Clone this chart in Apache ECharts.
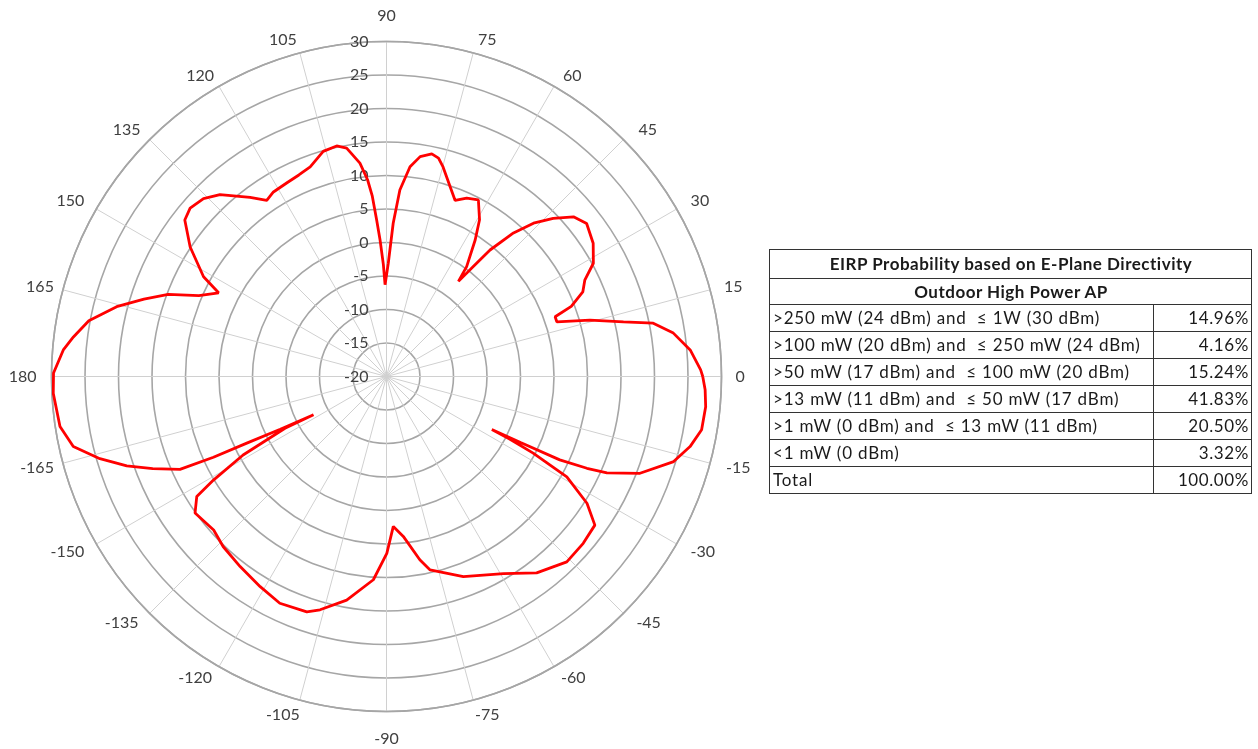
<!DOCTYPE html>
<html>
<head>
<meta charset="utf-8">
<script src="https://cdn.jsdelivr.net/npm/echarts@6.0.0/dist/echarts.min.js"></script>
<style>
html,body{margin:0;padding:0;background:#fff;}
#chart{position:absolute;left:0;top:0;width:1258px;height:749px;}
#tbl{position:absolute;left:769px;top:249px;width:482px;border-collapse:collapse;table-layout:fixed;font-family:Lato,"Open Sans",sans-serif;font-size:17px;letter-spacing:0.8px;color:#1a1a1a;}
#tbl td{border:1px solid #333;padding:0 2px 0 3px;line-height:20px;white-space:pre;overflow:visible;}
#tbl td.h{font-weight:bold;text-align:center;letter-spacing:0.5px;}
#tbl td.n{text-align:right;letter-spacing:0.6px;}
</style>
</head>
<body>
<div id="chart"></div>
<table id="tbl"></table>
<script>
// Angle (degrees, as labelled on the chart) and gain (dB) along the traced pattern
const angles = [
  0, 1.2, 5.0, 8.6, 11.3, 13.0, 15.5, 17.8, 19.5, 20.8, 23.3, 25.9, 28.7, 32.8, 37.4, 40.5, 43.5, 46.2, 48.5, 50.7, 51.7,
  52.9, 53.9, 57.0, 59.3, 62.5, 65.8, 68.7, 71.5, 74.9, 76.6, 78.5, 81.3, 83.6, 85.9, 87.5, 89.1,
  90.9, 91.6, 92.7, 93.6, 94.5, 95.5, 97.1, 99.9, 102.2, 105.7, 110.0, 113.5, 117.3, 121.5, 124.2, 127.3,
  132.5, 135.8, 139.4, 142.2, 146.6, 151.4, 153.5, 156.7, 159.4, 162.3, 165.5, 169.4, 172.8, 175.3, 179.4,
  -177.1, -171.3, -167.4, -164.0, -161.0, -158.5, -155.8, -155.0, -154.5, -153.6, -152.3, -153.0, -151.3,
  -149.1, -147.7, -144.5, -138.4, -133.8, -127.6, -121.0, -115.2, -108.7, -105.9, -100.1, -93.7, -89.9,
  -87.4, -84.0, -79.7, -77.3, -69.0, -59.3, -52.6, -45.8, -40.3, -35.5, -32.3, -29.1, -27.6, -26.9, -26.7,
  -26.2, -25.7, -24.6, -23.6, -20.9, -16.5, -13.0, -9.6, -5.4, -2.4, 0
];
const gains = [
  27.2, 26.9, 25.5, 23.3, 20.6, 16.3, 11.5, 6.7, 6.7, 9.5, 11.9, 12.9, 15.2, 16.7, 17.6, 16.7, 14.3, 11.7, 8.6, 4.4, 0.9,
  -2.2, 0.3, 4.3, 7.2, 9.7, 9.2, 8.2, 9.9, 12.4, 13.5, 13.9, 13.2, 11.5, 7.9, 2.9, -3.1,
  -6.3, -3.3, 0.4, 3.4, 7.0, 9.5, 12.1, 14.6, 15.2, 14.9, 13.3, 12.8, 12.5, 12.3, 11.8, 13.6,
  16.8, 18.1, 18.6, 18.1, 15.1, 11.1, 8.0, 10.5, 14.8, 18.0, 21.6, 25.2, 27.1, 28.4, 29.7,
  29.8, 29.3, 27.9, 24.5, 21.0, 17.5, 13.8, 8.5, 3.1, -2.3, -7.7, -3.0, 4.4,
  10.1, 13.5, 15.1, 14.5, 15.2, 15.8, 16.6, 17.4, 17.1, 16.2, 13.9, 10.4, 6.4,
  2.4, 4.0, 7.8, 9.6, 12.0, 14.2, 16.9, 18.6, 18.5, 18.2, 15.4, 10.8, 4.7, 0.6, -2.4,
  2.3, 8.7, 12.9, 15.9, 20.5, 24.7, 26.5, 27.7, 27.85, 27.6, 27.2
];
const angleTickLabels = ['0','15','30','45','60','75','90','105','120','135','150','165','180',
  '-165','-150','-135','-120','-105','-90','-75','-60','-45','-30','-15'];
const radiusTicks = [-20, -15, -10, -5, 0, 5, 10, 15, 20, 25, 30];

const tableTitle = 'EIRP Probability based on E-Plane Directivity';
const tableSubtitle = 'Outdoor High Power AP';
const rangeLabels = [
  '>250 mW (24 dBm) and  \u2264 1W (30 dBm)',
  '>100 mW (20 dBm) and  \u2264 250 mW (24 dBm)',
  '>50 mW (17 dBm) and  \u2264 100 mW (20 dBm)',
  '>13 mW (11 dBm) and  \u2264 50 mW (17 dBm)',
  '>1 mW (0 dBm) and  \u2264 13 mW (11 dBm)',
  '<1 mW (0 dBm)',
  'Total'
];
const rangePercents = ['14.96%', '4.16%', '15.24%', '41.83%', '20.50%', '3.32%', '100.00%'];

// ---- table ----
const esc = s => s.replace(/&/g,'&amp;').replace(/</g,'&lt;').replace(/>/g,'&gt;');
let html = '<colgroup><col style="width:384px"><col style="width:98px"></colgroup>';
html += '<tr style="height:29px"><td class="h" colspan="2">' + esc(tableTitle) + '</td></tr>';
html += '<tr style="height:26px"><td class="h" colspan="2">' + esc(tableSubtitle) + '</td></tr>';
for (let i = 0; i < rangeLabels.length; i++) {
  html += '<tr style="height:27px"><td>' + esc(rangeLabels[i]) + '</td><td class="n">' + esc(rangePercents[i]) + '</td></tr>';
}
document.getElementById('tbl').innerHTML = html;

// ---- chart ----
// angle axis runs 90..450 so that the radius labels sit on the vertical spoke
const toAxis = a => ((((a - 90) % 360) + 360) % 360) + 90;
const data = angles.map((a, i) => [gains[i], toAxis(a)]);

// per-label padding [top, right, bottom, left] to mimic the reference label placement
const labelPad = {
  '0': [0,0,0,14], '15': [0,0,6,14], '30': [0,0,0,14], '45': [0,0,2,15], '60': [0,0,3,9],
  '75': [0,0,5,28], '90': [0,0,18,0], '105': [0,34,5,0], '120': [0,5,3,0], '135': [0,9,2,0],
  '150': [0,12,0,0], '165': [0,9,6,0], '180': [0,15,0,0], '-165': [10,9,0,0], '-150': [0,12,0,0],
  '-135': [1,11,0,0], '-120': [3,7,0,0], '-105': [7,34,0,0], '-90': [19,0,0,0], '-75': [7,0,0,28],
  '-60': [3,0,0,7], '-45': [1,0,0,13], '-30': [0,0,0,14], '-15': [10,0,0,16]
};
const font = 'Lato';
const rich = {};
angleTickLabels.forEach((t, i) => {
  rich['a' + i] = {padding: labelPad[t], fontSize: 16, fontFamily: font, color: '#404040'};
});

const chart = echarts.init(document.getElementById('chart'), null, {renderer: 'canvas'});
chart.setOption({
  animation: false,
  polar: {center: [386.5, 376.5], radius: [0, 335]},
  angleAxis: {
    type: 'value', min: 90, max: 450, interval: 15, startAngle: 90, clockwise: false,
    axisLine: {show: true, lineStyle: {color: '#a6a6a6', width: 1.6}},
    axisTick: {show: false},
    axisLabel: {
      margin: 0, color: '#404040', fontSize: 16, fontFamily: font, rich: rich,
      formatter: v => {
        const i = Math.round((((v % 360) + 360) % 360) / 15) % 24;
        return '{a' + i + '|' + angleTickLabels[i] + '}';
      }
    },
    splitLine: {show: true, lineStyle: {color: '#d0d0d0', width: 1}}
  },
  radiusAxis: {
    type: 'value', min: radiusTicks[0], max: radiusTicks[radiusTicks.length - 1], interval: 5,
    axisLine: {show: false}, axisTick: {show: false},
    axisLabel: {margin: 18, color: '#404040', fontSize: 16, fontFamily: font},
    splitLine: {show: true, lineStyle: {color: '#a6a6a6', width: 1.6}}
  },
  series: [{
    type: 'line', coordinateSystem: 'polar', data: data,
    symbol: 'none', showSymbol: false, smooth: false,
    lineStyle: {color: '#ff0000', width: 2.8}
  }]
});
</script>
</body>
</html>
